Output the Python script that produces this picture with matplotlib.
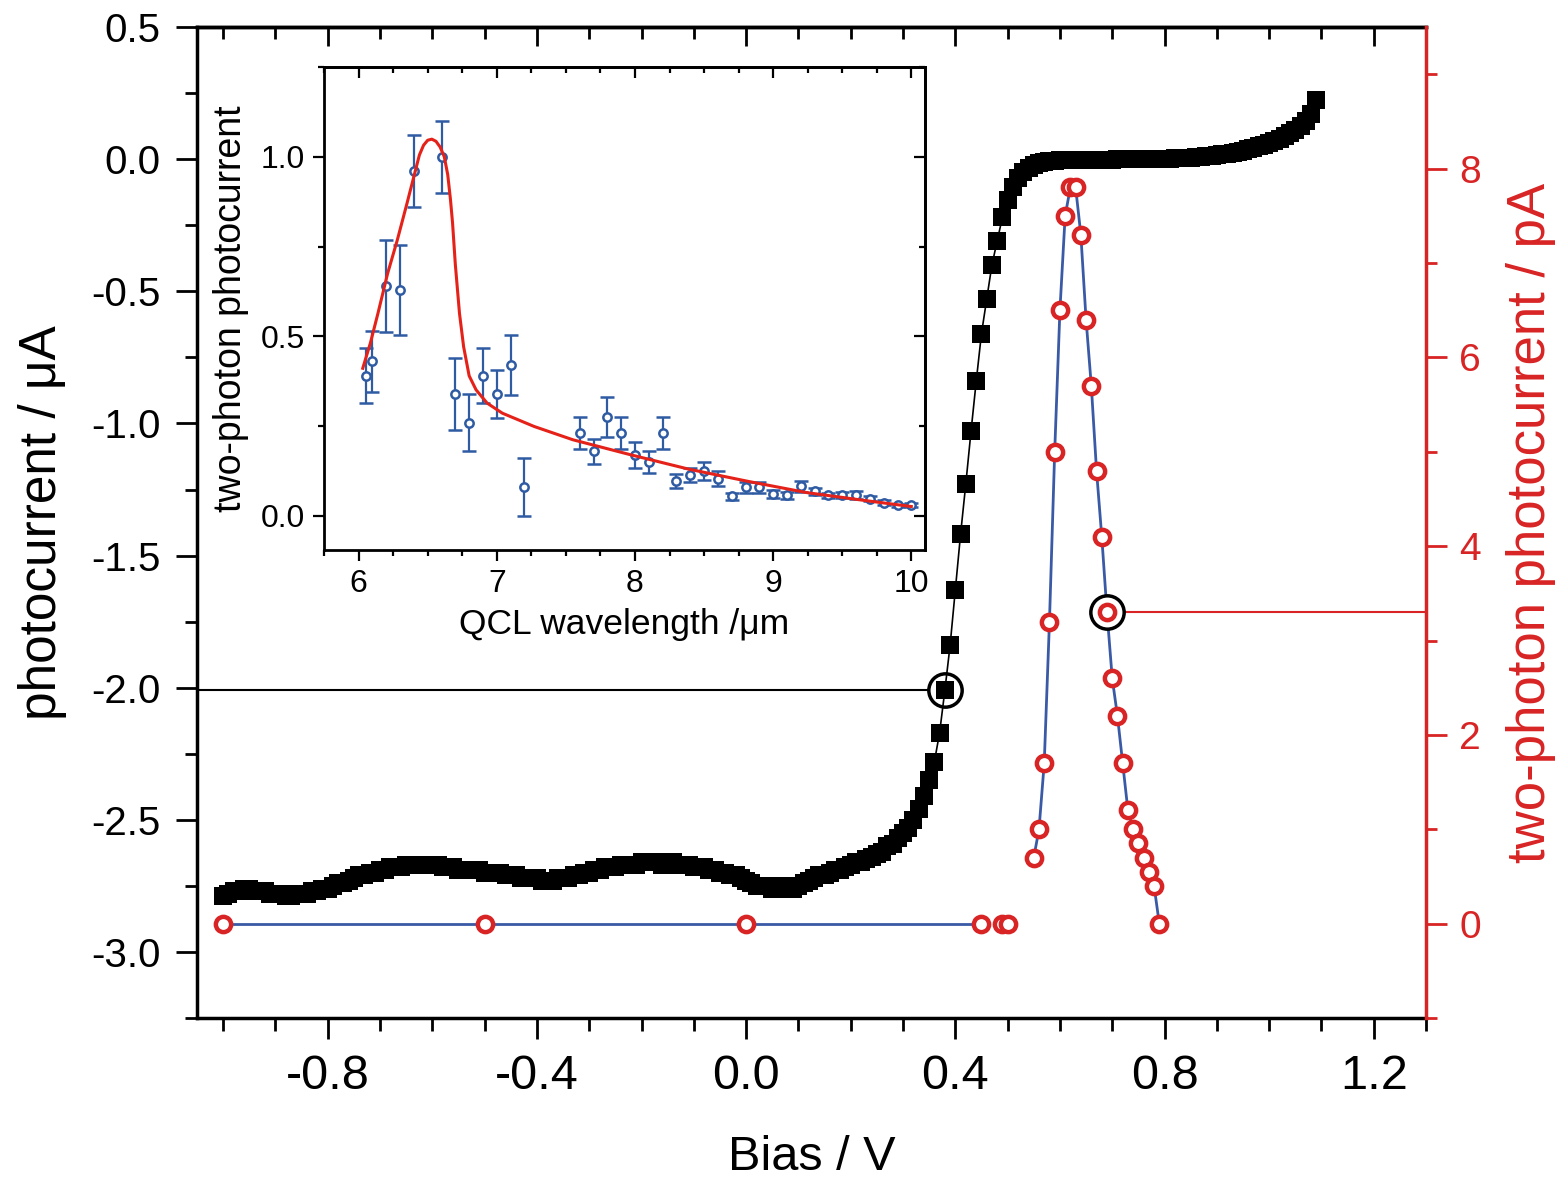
import numpy as np
import matplotlib
matplotlib.use("Agg")
import matplotlib.pyplot as plt
from matplotlib.ticker import MultipleLocator, FormatStrFormatter

plt.rcParams['font.family'] = ['Liberation Sans', 'DejaVu Sans']
plt.rcParams['axes.unicode_minus'] = False

# ---------------------------------------------------------------- data
# DC photocurrent during the bias sweep (0.01 V steps)
bias_v = np.round(np.arange(-1.00, 1.095, 0.01), 2)
photocurrent_ua = [
    -2.79, -2.78, -2.77, -2.77, -2.76, -2.76, -2.77, -2.77, -2.77, -2.78,
    -2.78, -2.78, -2.79, -2.79, -2.78, -2.78, -2.78, -2.77, -2.77, -2.76,
    -2.76, -2.75, -2.74, -2.74, -2.73, -2.72, -2.71, -2.71, -2.70, -2.70,
    -2.69, -2.69, -2.68, -2.68, -2.68, -2.67, -2.67, -2.67, -2.67, -2.67,
    -2.67, -2.67, -2.68, -2.68, -2.68, -2.69, -2.69, -2.69, -2.69, -2.69,
    -2.70, -2.70, -2.70, -2.70, -2.71, -2.71, -2.71, -2.72, -2.72, -2.72,
    -2.72, -2.73, -2.73, -2.73, -2.72, -2.72, -2.72, -2.71, -2.71, -2.70,
    -2.70, -2.69, -2.69, -2.68, -2.68, -2.68, -2.67, -2.67, -2.67, -2.67,
    -2.66, -2.66, -2.66, -2.66, -2.67, -2.66, -2.66, -2.67, -2.67, -2.67,
    -2.68, -2.68, -2.68, -2.69, -2.69, -2.70, -2.70, -2.71, -2.71, -2.72,
    -2.73, -2.74, -2.75, -2.75, -2.75, -2.76, -2.76, -2.75, -2.75, -2.76,
    -2.75, -2.74, -2.73, -2.72, -2.71, -2.71, -2.70, -2.69, -2.69, -2.68,
    -2.67, -2.66, -2.66, -2.65, -2.64, -2.63, -2.62, -2.60, -2.59, -2.57,
    -2.55, -2.53, -2.50, -2.46, -2.41, -2.35, -2.28, -2.17, -2.01, -1.84,
    -1.63, -1.42, -1.23, -1.03, -0.84, -0.66, -0.53, -0.40, -0.31, -0.22,
    -0.155, -0.105, -0.070, -0.048, -0.033, -0.022, -0.015, -0.011, -0.008, -0.006,
    -0.005, -0.004, -0.004, -0.003, -0.003, -0.003, -0.002, -0.002, -0.002, -0.002,
    -0.002, -0.001, -0.001, -0.001, 0.000, 0.000, 0.000, 0.000, 0.001, 0.001,
    0.002, 0.002, 0.003, 0.004, 0.005, 0.006, 0.007, 0.009, 0.011, 0.013,
    0.015, 0.018, 0.021, 0.024, 0.028, 0.032, 0.037, 0.042, 0.048, 0.054,
    0.061, 0.069, 0.078, 0.088, 0.099, 0.112, 0.127, 0.145, 0.170, 0.225,
]

# two-photon photocurrent (pA) versus bias
tpc_bias_v = [-1.00, -0.50, 0.00, 0.45, 0.49, 0.50,
              0.55, 0.56, 0.57, 0.58, 0.59, 0.60, 0.61, 0.62, 0.63, 0.64,
              0.65, 0.66, 0.67, 0.68, 0.69, 0.70, 0.71, 0.72, 0.73, 0.74,
              0.75, 0.76, 0.77, 0.78, 0.79]
tpc_pa = [0.0, 0.0, 0.0, 0.0, 0.0, 0.0,
          0.70, 1.00, 1.70, 3.20, 5.00, 6.50, 7.50, 7.80, 7.80, 7.30,
          6.40, 5.70, 4.80, 4.10, 3.30, 2.60, 2.20, 1.70, 1.20, 1.00,
          0.85, 0.70, 0.55, 0.40, 0.00]

# highlighted operating points
dc_marked_bias = 0.38
tpc_marked_bias = 0.69

# inset: normalised two-photon photocurrent vs QCL wavelength
qcl_wl_um = [6.05, 6.10, 6.20, 6.30, 6.40, 6.60, 6.70, 6.80, 6.90, 7.00,
             7.10, 7.20, 7.60, 7.70, 7.80, 7.90, 8.00, 8.10, 8.20, 8.30,
             8.40, 8.50, 8.60, 8.70, 8.80, 8.90, 9.00, 9.10, 9.20, 9.30,
             9.40, 9.50, 9.60, 9.70, 9.80, 9.90, 10.00]
qcl_tpc = [0.39, 0.43, 0.64, 0.63, 0.96, 1.00, 0.34, 0.26, 0.39, 0.34,
           0.42, 0.08, 0.23, 0.18, 0.275, 0.23, 0.17, 0.15, 0.23, 0.097,
           0.114, 0.126, 0.103, 0.055, 0.080, 0.080, 0.061, 0.057, 0.082, 0.069,
           0.057, 0.058, 0.058, 0.048, 0.037, 0.029, 0.031]
qcl_tpc_err = [0.077, 0.084, 0.128, 0.125, 0.10, 0.10, 0.10, 0.078, 0.077, 0.067,
               0.084, 0.08, 0.044, 0.035, 0.056, 0.044, 0.036, 0.032, 0.045, 0.019,
               0.02, 0.025, 0.021, 0.01, 0.015, 0.015, 0.01, 0.01, 0.016, 0.01,
               0.008, 0.008, 0.01, 0.006, 0.006, 0.005, 0.005]
fit_wl_um = [6.03, 6.085, 6.14, 6.21, 6.28, 6.35, 6.41, 6.44, 6.47, 6.50,
             6.53, 6.56, 6.59, 6.62, 6.645, 6.665, 6.68, 6.70, 6.73, 6.76,
             6.80, 6.85, 6.93, 7.04, 7.27, 7.55, 7.97, 8.39, 8.82, 9.24,
             9.66, 10.0]
fit_tpc = [0.411, 0.481, 0.564, 0.675, 0.768, 0.870, 0.960, 1.005, 1.032, 1.046,
           1.049, 1.043, 1.027, 1.000, 0.950, 0.880, 0.815, 0.700, 0.564, 0.471,
           0.390, 0.351, 0.314, 0.286, 0.249, 0.212, 0.170, 0.130, 0.096, 0.065,
           0.043, 0.026]

# ---------------------------------------------------------------- styles
RED = '#d82424'
BLUE = '#3a5aa6'
INSET_BLUE = '#2f5ba3'
FIT_RED = '#e52219'

fig = plt.figure(figsize=(15.58, 11.81), dpi=100)
ax = fig.add_axes([0.1264, 0.138, 0.7889, 0.8391])
ax2 = ax.twinx()

x_lo, x_hi = -1.05, 1.30
ax.set_xlim(x_lo, x_hi)
ax.set_ylim(-3.25, 0.5)
ax2.set_ylim(-1.0, 9.5)

# DC photocurrent: black squares joined by a thin line
ax.plot(bias_v, photocurrent_ua, '-', color='black', lw=1.2,
        marker='s', ms=13, mfc='black', mec='black', mew=0, zorder=3)

# highlighted DC point with a guide line to the left axis
i_dc = int(np.argmin(np.abs(bias_v - dc_marked_bias)))
y_dc = photocurrent_ua[i_dc]
ax.plot([x_lo, bias_v[i_dc]], [y_dc, y_dc], color='black', lw=1.5, zorder=1)
ax.plot([bias_v[i_dc]], [y_dc], 'o', ms=24, mfc='white', mec='black',
        mew=2.5, zorder=2)

# two-photon photocurrent: red open circles on blue connecting lines
tb = np.array(tpc_bias_v)
tp = np.array(tpc_pa)
flat = tb <= 0.45
peak = tb >= 0.55
ax2.plot(tb[flat], tp[flat], '-', color=BLUE, lw=2.0, zorder=2)
ax2.plot(tb[peak], tp[peak], '-', color=BLUE, lw=2.0, zorder=2)

i_tp = int(np.argmin(np.abs(tb - tpc_marked_bias)))
y_tp = tp[i_tp]
ax2.plot([tb[i_tp], x_hi], [y_tp, y_tp], color=RED, lw=1.5, zorder=1)
ax2.plot([tb[i_tp]], [y_tp], 'o', ms=24, mfc='white', mec='black',
         mew=2.5, zorder=2.5)
ax2.plot(tb, tp, 'o', ls='none', ms=11, mfc='white', mec=RED, mew=3.2,
         zorder=3)

# ---------------------------------------------------------------- axes look
SP = 2.5
for s in ('left', 'bottom', 'top'):
    ax.spines[s].set_linewidth(SP)
ax.spines['right'].set_visible(False)
for s in ('left', 'bottom', 'top'):
    ax2.spines[s].set_visible(False)
ax2.spines['right'].set_linewidth(SP)
ax2.spines['right'].set_color(RED)

ax.xaxis.set_major_locator(MultipleLocator(0.4))
ax.xaxis.set_minor_locator(MultipleLocator(0.1))
ax.xaxis.set_major_formatter(FormatStrFormatter('%.1f'))
ax.yaxis.set_major_locator(MultipleLocator(0.5))
ax.yaxis.set_minor_locator(MultipleLocator(0.25))
ax.yaxis.set_major_formatter(FormatStrFormatter('%.1f'))
ax.tick_params(axis='x', which='major', direction='out', length=15, width=2,
               labelsize=35, pad=11, top=False)
ax.tick_params(axis='x', which='minor', direction='out', length=9, width=2,
               top=False)
ax.tick_params(axis='y', which='major', direction='out', length=15, width=2,
               labelsize=29, pad=11, right=False)
ax.tick_params(axis='y', which='minor', direction='out', length=9, width=2,
               right=False)

ax2.yaxis.set_major_locator(MultipleLocator(2))
ax2.yaxis.set_minor_locator(MultipleLocator(1))
ax2.yaxis.set_major_formatter(FormatStrFormatter('%d'))
ax2.tick_params(axis='y', which='major', direction='out', length=15, width=2,
                labelsize=28, pad=9, colors=RED)
ax2.tick_params(axis='y', which='minor', direction='out', length=8, width=2,
                colors=RED)

top = ax.secondary_xaxis('top')
top.xaxis.set_major_locator(MultipleLocator(0.4))
top.xaxis.set_minor_locator(MultipleLocator(0.1))
top.tick_params(axis='x', which='major', direction='in', length=14, width=2,
                labeltop=False)
top.tick_params(axis='x', which='minor', direction='in', length=8.5, width=2)
top.spines['top'].set_linewidth(SP)

ax.set_xlabel('Bias / V', fontsize=35)
ax.xaxis.set_label_coords(0.5, -0.141)
ax.xaxis.label.set_va('center')
ax.set_ylabel('photocurrent / μA', fontsize=37, va='center')
ax.yaxis.set_label_coords(-0.1253, 0.5)
ax2.set_ylabel('two-photon photocurrent / pA', fontsize=38, color=RED,
               va='center')
ax2.yaxis.set_label_coords(1.0854, 0.5)

# ---------------------------------------------------------------- inset
axin = fig.add_axes([0.208, 0.5343, 0.3858, 0.409])
axin.set_zorder(5)
axin.set_facecolor('white')
axin.errorbar(qcl_wl_um, qcl_tpc, yerr=qcl_tpc_err, fmt='o', ms=6,
              mfc='white', mec=INSET_BLUE, mew=1.8, ecolor=INSET_BLUE,
              elinewidth=1.6, capsize=5, capthick=1.6, zorder=3)
axin.plot(fit_wl_um, fit_tpc, '-', color=FIT_RED, lw=2.2, zorder=4)

axin.set_xlim(5.75, 10.1)
axin.set_ylim(-0.095, 1.25)
for s in axin.spines.values():
    s.set_linewidth(2)
axin.xaxis.set_major_locator(MultipleLocator(1))
axin.xaxis.set_minor_locator(MultipleLocator(0.25))
axin.yaxis.set_major_locator(MultipleLocator(0.5))
axin.yaxis.set_minor_locator(MultipleLocator(0.25))
axin.yaxis.set_major_formatter(FormatStrFormatter('%.1f'))
axin.tick_params(which='major', direction='out', length=8, width=1.6,
                 labelsize=23, pad=6, top=False, right=False)
axin.tick_params(which='minor', direction='out', length=4.5, width=1.6,
                 top=False, right=False)

in_top = axin.secondary_xaxis('top')
in_top.xaxis.set_major_locator(MultipleLocator(1))
in_top.xaxis.set_minor_locator(MultipleLocator(0.25))
in_top.tick_params(axis='x', which='major', direction='in', length=8,
                   width=1.6, labeltop=False)
in_top.tick_params(axis='x', which='minor', direction='in', length=4.5,
                   width=1.6)
in_top.spines['top'].set_linewidth(2)
in_right = axin.secondary_yaxis('right')
in_right.yaxis.set_major_locator(MultipleLocator(0.5))
in_right.yaxis.set_minor_locator(MultipleLocator(0.25))
in_right.tick_params(axis='y', which='major', direction='in', length=8,
                     width=1.6, labelright=False)
in_right.tick_params(axis='y', which='minor', direction='in', length=4.5,
                     width=1.6)
in_right.spines['right'].set_linewidth(2)

axin.set_xlabel('QCL wavelength /μm', fontsize=25.5, labelpad=6)
axin.set_ylabel('two-photon photocurrent', fontsize=27, labelpad=8)

fig.savefig('out.png', dpi=100, facecolor='white')
